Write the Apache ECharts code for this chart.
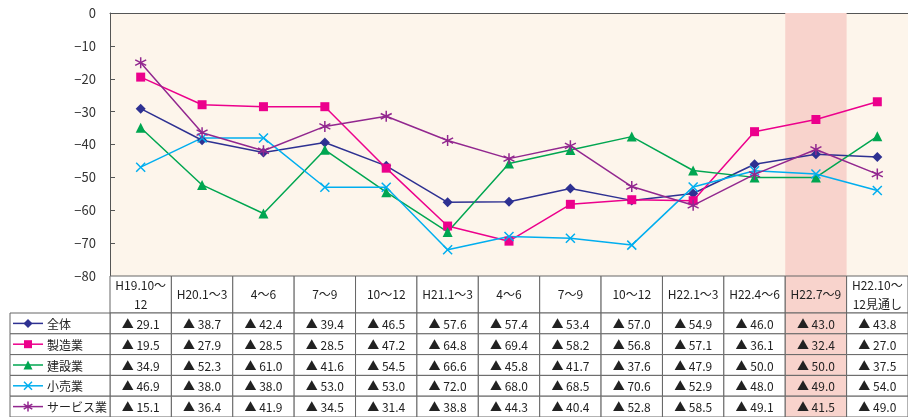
<!DOCTYPE html>
<html>
<head>
<meta charset="utf-8">
<script src="https://cdn.jsdelivr.net/npm/echarts@6/dist/echarts.min.js"></script>
<style>
  html, body { margin: 0; padding: 0; background: #fff; }
  #chart { width: 908px; height: 417px; }
</style>
</head>
<body>
<div id="chart"></div>
<script>
// categories (quarters) and DI values (all negative, shown as ▲ in table)
var categories = ['H19.10～\n12', 'H20.1～3', '4～6', '7～9', '10～12', 'H21.1～3', '4～6', '7～9', '10～12', 'H22.1～3', 'H22.4～6', 'H22.7～9', 'H22.10～\n12見通し'];
var highlightCat = 'H22.7～9';
var rowNames = ['全体', '製造業', '建設業', '小売業', 'サービス業'];

var zentai   = [29.1, 38.7, 42.4, 39.4, 46.5, 57.6, 57.4, 53.4, 57.0, 54.9, 46.0, 43.0, 43.8];
var seizo    = [19.5, 27.9, 28.5, 28.5, 47.2, 64.8, 69.4, 58.2, 56.8, 57.1, 36.1, 32.4, 27.0];
var kensetsu = [34.9, 52.3, 61.0, 41.6, 54.5, 66.6, 45.8, 41.7, 37.6, 47.9, 50.0, 50.0, 37.5];
var kouri    = [46.9, 38.0, 38.0, 53.0, 53.0, 72.0, 68.0, 68.5, 70.6, 52.9, 48.0, 49.0, 54.0];
var service  = [15.1, 36.4, 41.9, 34.5, 31.4, 38.8, 44.3, 40.4, 52.8, 58.5, 49.1, 41.5, 49.0];

var yMin = -80, yMax = 0, yStep = 10;

var rows = [zentai, seizo, kensetsu, kouri, service];
var colors = ['#2e3192', '#ec008c', '#00a651', '#00aeef', '#92278f'];
var shapes = [
    'M5,0L10,5L5,10L0,5Z',
    'M0,0H10V10H0Z',
    'M5,0L10,10L0,10Z',
    'M0,0L10,10M10,0L0,10',
    'M5,0V10M0.7,2.5L9.3,7.5M0.7,7.5L9.3,2.5'
];
var stroked = [false, false, false, true, true];
var symSizes = [10, 9, 10, 9, 11];

var hiIndex = categories.indexOf(highlightCat);
var pink = '#f8d3cc';
var border = '#666';
var font = '"Noto Sans CJK JP", sans-serif';

var dom = document.getElementById('chart');
var myChart = echarts.init(dom);

var lineSeries = rows.map(function(vals, k) {
    return {
        name: rowNames[k],
        type: 'line',
        xAxisIndex: 0,
        yAxisIndex: 0,
        data: vals.map(function(v) { return -v; }),
        symbol: 'path://' + shapes[k],
        symbolSize: symSizes[k],
        lineStyle: { color: colors[k], width: 1.5 },
        itemStyle: stroked[k]
            ? { color: colors[k], borderColor: colors[k], borderWidth: 1.5 }
            : { color: colors[k] },
        z: 3
    };
});

function cellRect(c, s, fill) {
    return {
        type: 'rect',
        shape: { x: c[0] - s[0] / 2, y: c[1] - s[1] / 2, width: s[0], height: s[1] },
        style: { fill: fill, stroke: border, lineWidth: 1 }
    };
}

function markerEl(k, cx, cy, size) {
    var el = {
        type: 'path',
        shape: { pathData: shapes[k], x: cx - size / 2, y: cy - size / 2, width: size, height: size }
    };
    el.style = stroked[k]
        ? { fill: null, stroke: colors[k], lineWidth: 1.5 }
        : { fill: colors[k] };
    return el;
}

var headerData = categories.map(function(c, i) { return [i, 0]; });
var bodyData = [];
rows.forEach(function(vals, r) {
    vals.forEach(function(v, i) { bodyData.push([i, r]); });
});
var legendData = rowNames.map(function(n, r) { return [0, r]; });

var option = {
    animation: false,
    grid: [
        { left: 110, top: 13, width: 807, height: 263, show: true, backgroundColor: '#fdf5eb', borderWidth: 0 },
        { left: 110, top: 276, width: 807, height: 37 },
        { left: 110, top: 313, width: 807, height: 104 }
    ],
    xAxis: [
        {
            type: 'category', gridIndex: 0, data: categories,
            axisLine: { lineStyle: { color: '#555' } },
            axisTick: { show: false },
            axisLabel: { show: false },
            splitLine: { show: false }
        },
        { type: 'category', gridIndex: 1, data: categories, show: false },
        { type: 'category', gridIndex: 2, data: categories, show: false }
    ],
    yAxis: [
        {
            type: 'value', gridIndex: 0, min: yMin, max: yMax, interval: yStep,
            axisLine: { show: true, lineStyle: { color: '#555' } },
            axisTick: { show: true, inside: true, length: 5, lineStyle: { color: '#555' } },
            splitLine: { show: false },
            axisLabel: {
                color: '#333', fontSize: 13, fontFamily: font, margin: 14,
                formatter: function(v) { return v === 0 ? '0' : '\u2212' + Math.abs(v); }
            }
        },
        { type: 'category', gridIndex: 1, data: ['h'], show: false },
        { type: 'category', gridIndex: 2, data: rowNames, inverse: true, show: false }
    ],
    series: [
        {
            // highlighted quarter band in the plot area
            type: 'custom',
            xAxisIndex: 0,
            yAxisIndex: 0,
            silent: true,
            z: 1,
            data: [[hiIndex, yMax]],
            renderItem: function(params, api) {
                var top = api.coord([api.value(0), yMax]);
                var bottom = api.coord([api.value(0), yMin]);
                var w = api.size([1, 0])[0];
                return {
                    type: 'rect',
                    shape: { x: top[0] - w / 2, y: top[1], width: w, height: bottom[1] - top[1] },
                    style: { fill: pink }
                };
            }
        }
    ].concat(lineSeries).concat([
        {
            type: 'custom',
            xAxisIndex: 1,
            yAxisIndex: 1,
            clip: false,
            data: headerData,
            renderItem: function(params, api) {
                var i = api.value(0);
                var c = api.coord([i, 0]);
                var s = api.size([1, 1]);
                return {
                    type: 'group',
                    children: [
                        cellRect(c, s, i === hiIndex ? pink : '#fff'),
                        {
                            type: 'text',
                            style: {
                                text: categories[i], x: c[0], y: c[1],
                                align: 'center', verticalAlign: 'middle',
                                fontSize: 12, fontFamily: font, fill: '#222', lineHeight: 19
                            }
                        }
                    ]
                };
            }
        },
        {
            type: 'custom',
            xAxisIndex: 2,
            yAxisIndex: 2,
            clip: false,
            data: bodyData,
            renderItem: function(params, api) {
                var i = api.value(0), r = api.value(1);
                var c = api.coord([i, r]);
                var s = api.size([1, 1]);
                return {
                    type: 'group',
                    children: [
                        cellRect(c, s, i === hiIndex ? pink : '#fff'),
                        {
                            type: 'text',
                            style: {
                                text: '▲ ' + rows[r][i].toFixed(1), x: c[0], y: c[1] + 1,
                                align: 'center', verticalAlign: 'middle',
                                fontSize: 12, fontFamily: font, fill: '#222'
                            }
                        }
                    ]
                };
            }
        },
        {
            type: 'custom',
            xAxisIndex: 2,
            yAxisIndex: 2,
            clip: false,
            data: legendData,
            renderItem: function(params, api) {
                var r = api.value(1);
                var c = api.coord([0, r]);
                var s = api.size([1, 1]);
                var left = c[0] - s[0] / 2 - 100;
                var cy = c[1];
                return {
                    type: 'group',
                    children: [
                        cellRect([left + 50, cy], [100, s[1]], '#fff'),
                        {
                            type: 'line',
                            shape: { x1: left + 3, y1: cy, x2: left + 33, y2: cy },
                            style: { stroke: colors[r], lineWidth: 1.5 }
                        },
                        markerEl(r, left + 18, cy, symSizes[r] - 1),
                        {
                            type: 'text',
                            style: {
                                text: rowNames[r], x: left + 37, y: cy + 1,
                                align: 'left', verticalAlign: 'middle',
                                fontSize: 12, fontFamily: font, fill: '#222'
                            }
                        }
                    ]
                };
            }
        }
    ])
};
myChart.setOption(option, true);
</script>
</body>
</html>
